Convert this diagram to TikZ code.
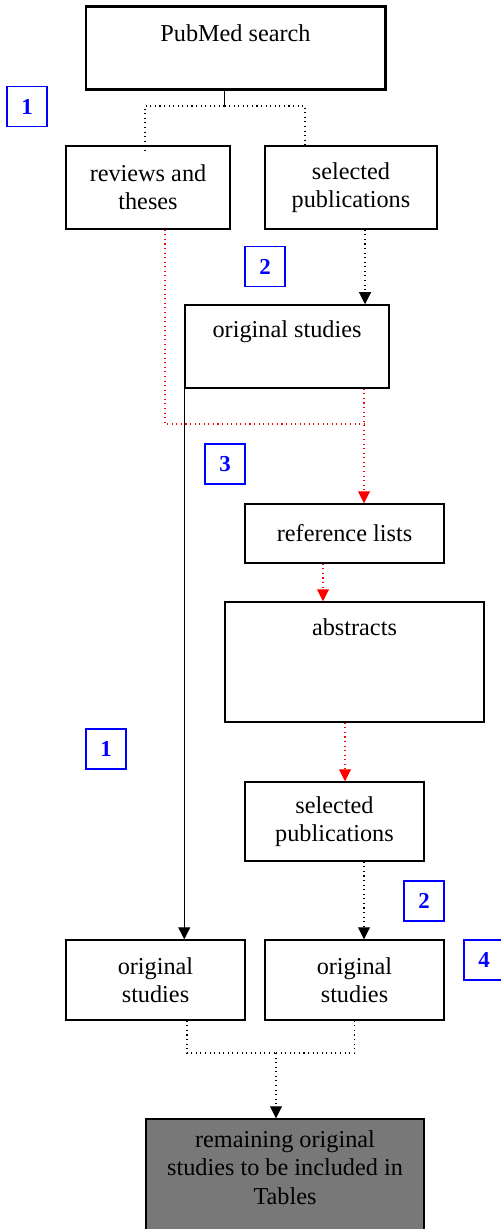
\documentclass[tikz,border=0pt]{standalone}
\usepackage{fontspec}
\setmainfont{Liberation Serif}
\usetikzlibrary{arrows.meta}

\tikzset{
    box/.style={draw, line width=0.85pt, inner sep=0pt, align=center,
        font=\fontsize{13.8pt}{16pt}\selectfont},
    numbox/.style={draw=blue, line width=0.8pt, minimum size=8mm, inner sep=0pt,
        text=blue, font=\fontsize{13pt}{15pt}\selectfont\bfseries},
    flow/.style={dotted, line width=0.6pt, -{Triangle[width=2.4mm,length=2.4mm]}},
    redflow/.style={flow, red},
}

\begin{document}
\begin{tikzpicture}[x=0.2mm, y=-0.2mm]
            \useasboundingbox (0,0) rectangle (500,1229);
            % Search
            \node[box, line width=1.7pt, minimum width=59.8mm, text height=7mm, text depth=9.6mm]
                (search) at (235.5,48.5) {PubMed search};
            % First split
            \node[box, minimum width=32.8mm, minimum height=16.6mm] (reviews) at (148,187.5) {reviews and\\theses};
            \node[box, minimum width=34.4mm, minimum height=16.6mm] (selpub1) at (351,187.5) {selected\\publications};
            \node[box, minimum width=40.8mm, text height=6.6mm, text depth=10mm]
                (orig1) at (287,346.5) {original studies};
            % Reference lists
            \node[box, minimum width=39.8mm, minimum height=11.8mm] (reflist) at (344.5,533.5) {reference lists};
            \node[box, minimum width=51.8mm, text height=6.6mm, text depth=17.4mm]
                (abstracts) at (354.5,662) {abstracts};
            \node[box, minimum width=35.8mm, minimum height=15.8mm] (selpub2) at (334.5,821.5) {selected\\publications};
            % Results
            \node[box, minimum width=35.8mm, minimum height=16mm] (origL) at (155.5,980) {original\\studies};
            \node[box, minimum width=35.8mm, minimum height=16mm] (origR) at (354.5,980) {original\\studies};
            \node[box, fill=black!53, minimum width=55.6mm, text height=17mm, text depth=7.2mm]
                (final) at (285,1179.5) {remaining original\\studies to be included in\\Tables};
            % Step numbers
            \foreach \name/\num/\x/\y in {step1a/1/27/106.5, step2a/2/265/266.5, step3/3/225/464,
                step1b/1/106/749, step2b/2/424/901, step4/4/484/960} {
                \node[numbox] (\name) at (\x,\y) {\num};
            }
            % Arrows
            \coordinate (splitL) at (145,106);
            \coordinate (splitM) at (224.5,106);
            \coordinate (splitR) at (305,106);
            \draw[line width=0.8pt] (search.south -| splitM) -- (splitM);
            \draw[dotted, line width=0.6pt] (splitM) -- (splitL) -- ([yshift=-1.8mm]reviews.north -| splitL);
            \draw[dotted, line width=0.6pt] (splitM) -- (splitR) -- ([yshift=-0.4mm]selpub1.north -| splitR);
            \draw[flow] ([shift={(14,0)}]selpub1.south) -- ([shift={(14,0)}]selpub1.south |- orig1.north);
            \coordinate (redjoin) at (368,424);
            \draw[dotted, red, line width=0.6pt] ([shift={(17,0)}]reviews.south) |- (redjoin);
            \draw[redflow] ([shift={(77,0)}]orig1.south) -- ([shift={(77,0)}]orig1.south |- reflist.north);
            \draw[redflow] ([shift={(-21.5,0)}]reflist.south) -- ([shift={(-21.5,0)}]reflist.south |- abstracts.north);
            \draw[redflow] ([shift={(-9.5,0)}]abstracts.south) -- ([shift={(-9.5,0)}]abstracts.south |- selpub2.north);
            \draw[flow] ([shift={(29.5,0)}]selpub2.south) -- ([shift={(29.5,0)}]selpub2.south |- origR.north);
            \draw[line width=0.8pt, -{Triangle[width=2.4mm,length=2.4mm]}] (orig1.south west) -- (orig1.south west |- origL.north);
            % Merge
            \coordinate (merge) at (276,1053);
            \draw[dotted, line width=0.6pt] ([shift={(31.5,0)}]origL.south) |- (merge);
            \draw[dotted, line width=0.6pt] (origR.south) |- (merge);
            \draw[flow] (merge) -- (merge |- final.north);
        \end{tikzpicture}
\end{document}
